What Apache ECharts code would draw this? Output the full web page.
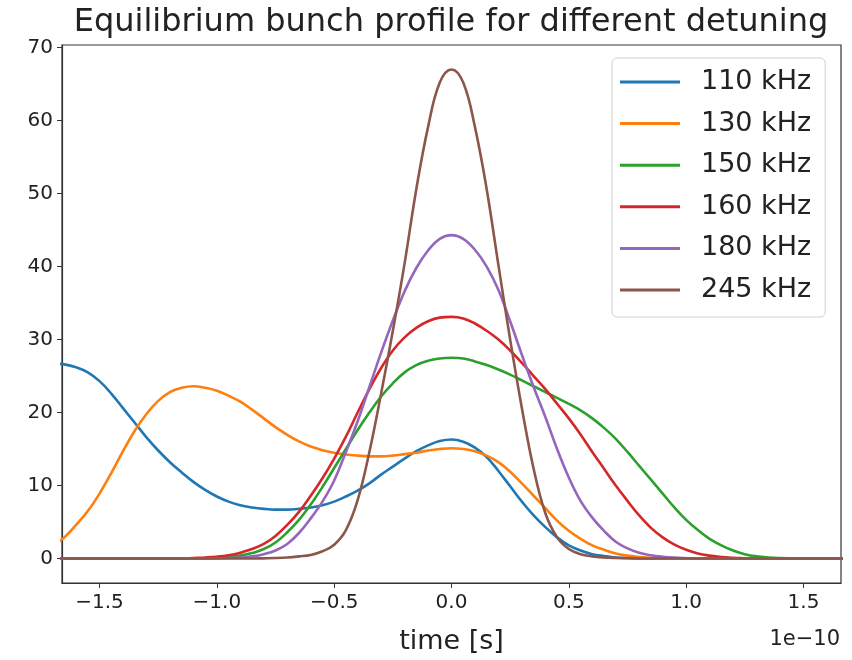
<!DOCTYPE html>
<html>
<head>
<meta charset="utf-8">
<script src="https://cdn.jsdelivr.net/npm/echarts@6/dist/echarts.min.js"></script>
<style>
html,body{margin:0;padding:0;background:#fff;}
#chart{width:852px;height:660px;}
</style>
</head>
<body>
<div id="chart"></div>
<script>
// time in units of 1e-10 s (step 0.05)
const xs = [-1.7,-1.65,-1.6,-1.55,-1.5,-1.45,-1.4,-1.35,-1.3,-1.25,-1.2,-1.15,-1.1,-1.05,-1.0,-0.95,-0.9,-0.85,-0.8,-0.75,-0.7,-0.65,-0.6,
  -0.55,-0.5,-0.45,-0.4,-0.35,-0.3,-0.25,-0.2,-0.15,-0.1,-0.05,0,0.05,0.1,0.15,0.2,0.25,0.3,0.35,0.4,0.45,0.5,0.55,
  0.6,0.65,0.7,0.75,0.8,0.85,0.9,0.95,1.0,1.05,1.1,1.15,1.2,1.25,1.3,1.35,1.4,1.45,1.5,1.55,1.6,1.65,1.7];

const seriesNames = ['110 kHz','130 kHz','150 kHz','160 kHz','180 kHz','245 kHz'];

const y110 = [26.7,26.6,26.2,25.5,24.3,22.6,20.6,18.6,16.6,14.8,13.2,11.8,10.5,9.4,8.5,7.8,7.3,7.0,6.8,6.7,6.7,6.8,7.0,
  7.3,7.8,8.5,9.3,10.3,11.5,12.6,13.7,14.7,15.5,16.1,16.3,16.0,15.2,13.9,12.0,9.9,7.8,5.9,4.3,2.9,1.8,1.1,
  0.6,0.35,0.15,0.07,0.03,0,0,0,0,0,0,0,0,0,0,0,0,0,0,0,0,0,0];

const y130 = [1.8,2.9,4.6,6.5,8.9,11.7,14.7,17.5,19.8,21.6,22.8,23.4,23.6,23.4,23.0,22.3,21.5,20.4,19.2,18.0,16.95,16.05,15.35,
  14.85,14.5,14.25,14.1,14.0,14.0,14.1,14.3,14.5,14.8,15.0,15.1,15.0,14.7,14.1,13.2,11.9,10.3,8.6,6.9,5.2,3.8,2.7,
  1.8,1.2,0.7,0.4,0.2,0.1,0.05,0.02,0,0,0,0,0,0,0,0,0,0,0,0,0,0,0];

const y150 = [0,0,0,0,0,0,0,0,0,0,0,0,0.02,0.05,0.1,0.2,0.4,0.75,1.3,2.2,3.6,5.3,7.4,
  9.8,12.4,15.0,17.6,20.0,22.2,24.0,25.5,26.5,27.1,27.4,27.5,27.4,27.0,26.5,25.9,25.2,24.4,23.6,22.8,22.0,21.2,20.3,
  19.2,17.9,16.4,14.6,12.7,10.8,8.9,7.0,5.3,3.9,2.7,1.8,1.1,0.6,0.3,0.15,0.07,0.03,0,0,0,0,0];

const y160 = [0,0,0,0,0,0,0,0,0,0,0,0,0.07,0.14,0.25,0.45,0.8,1.3,2.0,3.1,4.6,6.4,8.6,
  11.0,13.7,16.7,20.0,23.2,26.1,28.5,30.3,31.6,32.5,33.0,33.1,32.9,32.2,31.2,30.0,28.5,26.8,25.0,23.2,21.2,19.2,17.0,
  14.6,12.3,10.0,7.9,5.9,4.2,2.9,1.9,1.2,0.7,0.4,0.2,0.1,0.05,0,0,0,0,0,0,0,0,0];

const y180 = [0,0,0,0,0,0,0,0,0,0,0,0,0,0,0.03,0.07,0.15,0.3,0.6,1.1,2.0,3.5,5.5,
  7.8,10.7,14.6,18.8,23.5,28.2,32.6,36.6,39.8,42.2,43.8,44.3,43.8,42.3,40.0,36.8,32.5,27.9,23.5,19.4,15.0,11.1,7.9,
  5.6,3.8,2.3,1.4,0.8,0.45,0.25,0.13,0.07,0.03,0,0,0,0,0,0,0,0,0,0,0,0,0];

const y245 = [0,0,0,0,0,0,0,0,0,0,0,0,0,0,0,0,0,0,0.03,0.07,0.15,0.3,0.5,
  1.0,1.9,3.9,8.0,14.6,22.6,31.2,40.4,50.6,59.1,65.2,67.0,65.2,59.1,50.6,40.2,30.0,20.6,12.3,6.2,2.9,1.3,0.6,
  0.3,0.15,0.08,0.04,0,0,0,0,0,0,0,0,0,0,0,0,0,0,0,0,0,0,0];

const xTicks = [-1.5,-1.0,-0.5,0,0.5,1.0,1.5];
const yTicks = [0,10,20,30,40,50,60,70];

const colors = ['#1f77b4','#ff7f0e','#2ca02c','#d62728','#9467bd','#8c564b'];
const allY = [y110,y130,y150,y160,y180,y245];

const FONT = 'DejaVu Sans';
const fmtMinus = v => (v < 0 ? '\u2212' : '') + Math.abs(v).toFixed(1);

const chart = echarts.init(document.getElementById('chart'), null, {renderer:'canvas'});
chart.setOption({
  animation: false,
  backgroundColor: '#fff',
  title: {
    text: 'Equilibrium bunch profile for different detuning',
    left: 446, top: 2, textAlign: 'center',
    textStyle: {fontFamily: FONT, fontSize: 32, fontWeight: 'normal', color: '#222'}
  },
  grid: {left: 62, right: 11, top: 45, bottom: 77, show: true, borderColor: '#333', borderWidth: 1.2, backgroundColor: 'transparent'},
  legend: {
    orient: 'vertical', left: 612, top: 58,
    padding: [9, 14, 12, 8],
    itemWidth: 60, itemHeight: 3, itemGap: 11.6, icon: 'rect',
    borderColor: '#d0d0d0', borderWidth: 1, borderRadius: 5, backgroundColor: 'rgba(255,255,255,0.85)',
    textStyle: {fontFamily: FONT, fontSize: 27, color: '#222', lineHeight: 30, padding: [0,0,0,16]},
    data: seriesNames
  },
  xAxis: {
    type: 'value', min: -1.66, max: 1.66,
    name: 'time [s]', nameLocation: 'middle', nameGap: 45,
    nameTextStyle: {fontFamily: FONT, fontSize: 27, color: '#222'},
    axisLine: {onZero: false, lineStyle: {color: '#333', width: 1.2}},
    axisTick: {show: true, length: 5, customValues: xTicks, lineStyle: {color: '#333'}},
    axisLabel: {customValues: xTicks, margin: 10, fontFamily: FONT, fontSize: 20, color: '#222', formatter: fmtMinus},
    splitLine: {show: false}
  },
  yAxis: {
    type: 'value', min: -3.35, max: 70.35,
    axisLine: {show: true, onZero: false, lineStyle: {color: '#333', width: 1.2}},
    axisTick: {show: true, length: 5, customValues: yTicks, lineStyle: {color: '#333'}},
    axisLabel: {customValues: yTicks, margin: 9, fontFamily: FONT, fontSize: 20, color: '#222'},
    splitLine: {show: false}
  },
  graphic: [{
    type: 'text', right: 12, top: 629,
    style: {text: '1e\u221210', font: '21px "DejaVu Sans"', fill: '#222'}
  }],
  series: allY.map((ys, i) => ({
    name: seriesNames[i],
    type: 'line',
    data: xs.map((x, j) => [x, ys[j]]),
    showSymbol: false, symbol: 'none',
    smooth: 0.4,
    color: colors[i],
    lineStyle: {width: 2.6, color: colors[i]},
    clip: true
  }))
});
</script>
</body>
</html>
